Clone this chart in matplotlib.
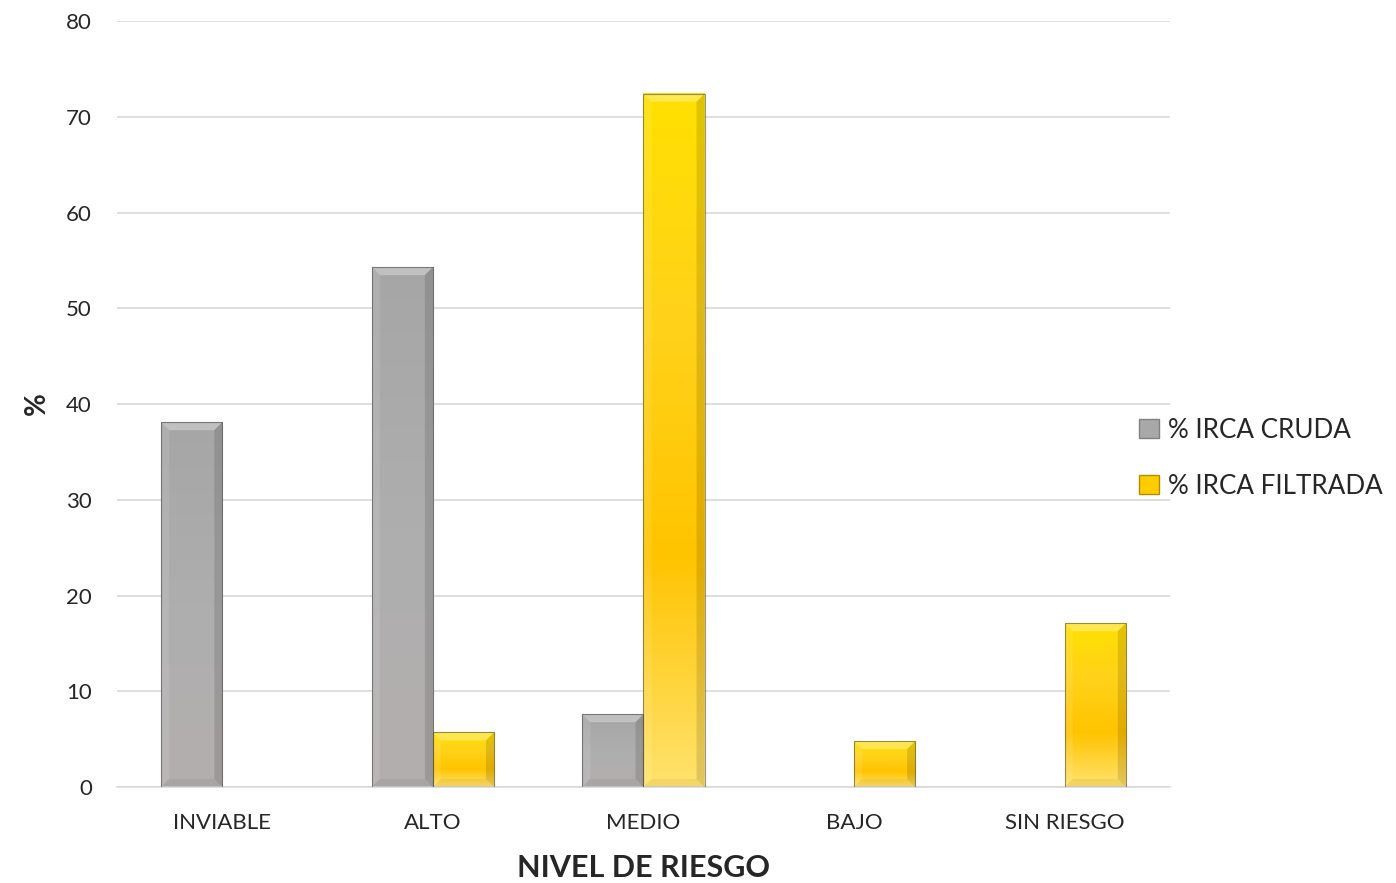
import numpy as np
import matplotlib
matplotlib.use('Agg')
import matplotlib.pyplot as plt
from matplotlib.colors import LinearSegmentedColormap
from matplotlib.patches import Polygon, Patch

# ---- Data -------------------------------------------------
categories = ['INVIABLE', 'ALTO', 'MEDIO', 'BAJO', 'SIN RIESGO']
irca_cruda = [38.1, 54.3, 7.6, 0, 0]
irca_filtrada = [0, 5.7, 72.4, 4.8, 17.1]
series_names = ['% IRCA CRUDA', '% IRCA FILTRADA']

# ---- Style ------------------------------------------------
plt.rcParams['font.family'] = ['Lato', 'DejaVu Sans']
grey_map = LinearSegmentedColormap.from_list('g', ['#b4afaf', '#aeaeae', '#a6a6a6'])
gold_map = LinearSegmentedColormap.from_list('y', ['#ffe36e', '#ffc400', '#ffd21a', '#ffe000'])
bar_w = 0.29

fig = plt.figure(figsize=(13.96, 8.83), dpi=100)
ax = fig.add_axes([0.0838, 0.1087, 0.7543, 0.8675])
ax.set_xlim(-0.5, len(categories) - 0.5)
ax.set_ylim(0, 80)
ax.set_yticks(np.arange(0, 81, 10))
ax.yaxis.grid(True, color='#d9d9d9', linewidth=1.2)
ax.set_axisbelow(True)
for s in ['top', 'right', 'left']:
    ax.spines[s].set_visible(False)
ax.spines['bottom'].set_color('#d9d9d9')
ax.spines['bottom'].set_linewidth(1.2)
ax.tick_params(length=0, labelsize=16, colors='#262626')
ax.tick_params(axis='x', pad=19)
ax.tick_params(axis='y', pad=18)
ax.set_xticks(range(len(categories)))
ax.set_xticklabels(categories)
ax.set_xlabel('NIVEL DE RIESGO', fontsize=22, fontweight='bold', color='#262626', labelpad=15)
ax.set_ylabel('%', fontsize=20, fontweight='bold', color='#262626', labelpad=12)

# bevel size in data units (approx 8 px)
bx = 8 / (0.7543 * 1396) * len(categories)
by = 8 / (0.8675 * 883) * 80


def bevel_bar(x0, x1, h, cmap):
    if h <= 0:
        return
    grad = np.linspace(0, 1, 256).reshape(-1, 1)
    ax.imshow(grad, extent=[x0, x1, 0, h], origin='lower', aspect='auto',
              cmap=cmap, zorder=2, interpolation='bilinear')
    dx = min(bx, (x1 - x0) / 2)
    dy = min(by, h / 2)
    sides = [
        ([(x0, h), (x1, h), (x1 - dx, h - dy), (x0 + dx, h - dy)], 'white', 0.3),
        ([(x0, 0), (x0, h), (x0 + dx, h - dy), (x0 + dx, dy)], 'white', 0.1),
        ([(x1, 0), (x1, h), (x1 - dx, h - dy), (x1 - dx, dy)], 'black', 0.12),
        ([(x0, 0), (x1, 0), (x1 - dx, dy), (x0 + dx, dy)], 'black', 0.05),
    ]
    for pts, c, a in sides:
        ax.add_patch(Polygon(pts, closed=True, facecolor=c, alpha=a,
                             edgecolor='none', zorder=3))
    ax.add_patch(Polygon([(x0, 0), (x0, h), (x1, h), (x1, 0)], closed=True,
                         facecolor='none', edgecolor='#404040', linewidth=0.8,
                         alpha=0.55, zorder=4))


for i in range(len(categories)):
    bevel_bar(i - bar_w, i, irca_cruda[i], grey_map)
    bevel_bar(i, i + bar_w, irca_filtrada[i], gold_map)

ax.set_xlim(-0.5, len(categories) - 0.5)
ax.set_ylim(0, 80)

handles = [Patch(facecolor='#a8a8a8', edgecolor='#808080'),
           Patch(facecolor='#ffcc00', edgecolor='#b08c00')]
fig.legend(handles, series_names, loc='center left',
           bbox_to_anchor=(0.803, 0.481), frameon=False, fontsize=18.7,
           handlelength=0.75, handleheight=0.75, handletextpad=0.35,
           labelspacing=1.2, labelcolor='#262626', borderpad=0.2)

fig.savefig('out.png', dpi=100)
